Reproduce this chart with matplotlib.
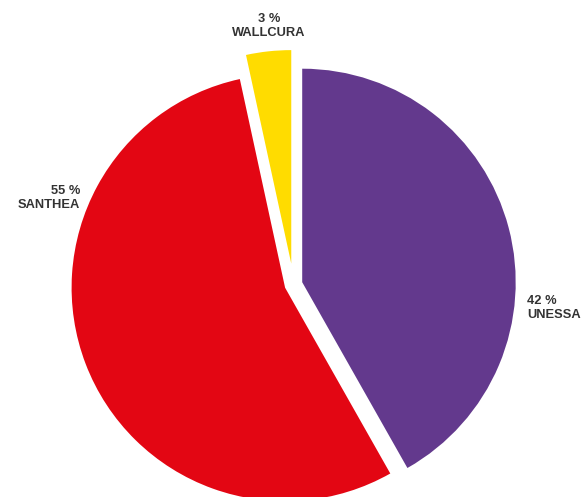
import matplotlib
matplotlib.use("Agg")
import matplotlib.pyplot as plt

categories = ["UNESSA", "SANTHEA", "WALLCURA"]
values = [41.8, 54.8, 3.4]
colors = ["#63398d", "#e30613", "#ffdc00"]
explode_px = [9, 9, 21]

W, H = 582, 497
fig = plt.figure(figsize=(W / 100, H / 100), dpi=100)
ax = fig.add_axes([0, 0, 1, 1])

R = 213.5
cx, cy = 293.5, H - 284.5
ax.pie(values, colors=colors, explode=explode_px, startangle=90, counterclock=False,
       radius=R, center=(cx, cy), frame=True,
       wedgeprops=dict(linewidth=0, antialiased=True))
ax.set_xlim(0, W)
ax.set_ylim(0, H)
ax.set_aspect("equal")
ax.axis("off")

font = dict(family=["Liberation Sans", "DejaVu Sans"], fontsize=9.3, fontweight="bold",
            color="#333333", linespacing=1.15)
labels = [f"{v:.0f} %\n{c}" for v, c in zip(values, categories)]
ax.text(527, H - 308, labels[0], ha="left", va="center", **font)
ax.text(80, H - 198, labels[1], ha="right", va="center", multialignment="right", **font)
ax.text(269, H - 26, labels[2], ha="center", va="center", multialignment="center", **font)

fig.savefig("out.png", dpi=100)
